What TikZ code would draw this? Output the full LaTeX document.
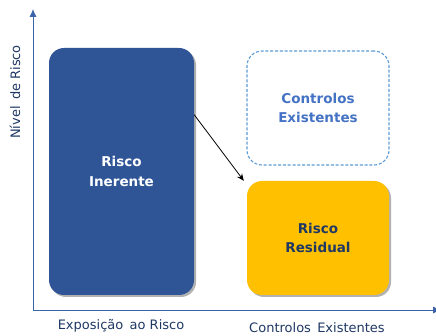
\documentclass[tikz,border=0pt]{standalone}
\usepackage{fontspec}
\setmainfont{DejaVu Sans}
\usetikzlibrary{arrows.meta,shadows}
\definecolor{inhblue}{HTML}{2F5597}
\definecolor{axisblue}{HTML}{3A63A8}
\definecolor{dashblue}{HTML}{5B9BD5}
\definecolor{ctrltext}{HTML}{4472C4}
\definecolor{resyel}{HTML}{FFC000}
\definecolor{navy}{HTML}{1F3864}
\tikzset{
  box/.style={rounded corners=15pt, align=center, font=\bfseries\fontsize{13.5}{19.5}\selectfont},
  shad/.style={drop shadow={shadow xshift=2pt, shadow yshift=-2pt, fill=black, opacity=0.3}},
  axis/.style={draw=axisblue, line width=0.9pt},
  axlabel/.style={text=navy, font=\fontsize{13}{15}\selectfont, inner sep=0pt},
}
\begin{document}
\begin{tikzpicture}[x=1pt,y=-1pt]
\useasboundingbox (0,0) rectangle (436,336);
\clip (0,0) rectangle (436,336);
\coordinate (o) at (33,310);
\coordinate (ytop) at (33,9);
\coordinate (xend) at (441,310);
\draw[axis,-{Latex[length=8pt,width=7pt]}] (o) -- (ytop);
\draw[axis,-{Latex[length=8pt,width=7pt]}] (o) -- (xend);
\node[box, shad, fill=inhblue, text=white, minimum width=145pt, minimum height=247pt] (inh) at (121.5,171.5) {Risco\\Inerente};
\node[box, draw=dashblue, dash pattern=on 3pt off 1.8pt, line width=1.1pt, text=ctrltext, fill=white, minimum width=142pt, minimum height=114pt] (ctrl) at (318,108) {Controlos\\Existentes};
\node[box, shad, fill=resyel, text=navy, minimum width=142pt, minimum height=114pt] (res) at (318,238) {Risco\\Residual};
\draw[-{Stealth[length=7pt,width=6pt]}, line width=0.8pt] (inh.38) -- ([xshift=-3pt]res.north west);
\node[axlabel, rotate=90] (ylab) at (15,92) {Nível\, de Risco};
\node[axlabel] (xlab1) at (121,326) {Exposição\, ao Risco};
\node[axlabel] (xlab2) at (317,328) {Controlos\, Existentes};
\end{tikzpicture}
\end{document}
